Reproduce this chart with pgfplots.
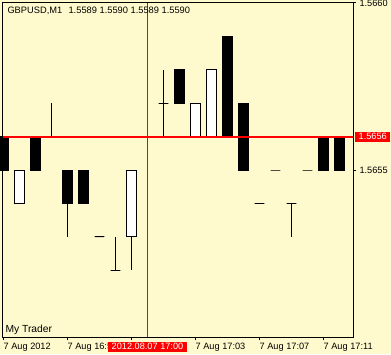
\documentclass[border=0pt]{standalone}
\usepackage{pgfplots}
\pgfplotsset{compat=1.18}
\usepgfplotslibrary{statistics}
\usepackage{fontspec}
\setmainfont{Liberation Sans}
\definecolor{chartbg}{HTML}{FFFACD}
\definecolor{mtred}{HTML}{FF0000}
% Prices are given in units of 0.0001 above 1.5600 (e.g. 56 = 1.5656)
\begin{document}
\begin{tikzpicture}
\useasboundingbox (0,0) rectangle (391pt,354pt);
\clip (0,0) rectangle (391pt,354pt);
\fill[chartbg] (0,0) rectangle (391pt,354pt);
\begin{axis}[
  at={(3pt,17pt)}, anchor=south west,
  scale only axis, width=350pt, height=334pt,
  xmin=-0.03, xmax=21.845, ymin=50, ymax=60,
  clip=false,
  axis line style={line width=1pt, black},
  tick align=outside, major tick length=3pt,
  every tick/.style={line width=1pt, black},
  xtick pos=left, ytick pos=right, yticklabel pos=right,
  xtick={0,4,8,12,16,20},
  xticklabels={7 Aug 2012, 7 Aug 16:55, 7 Aug 16:59, 7 Aug 17:03, 7 Aug 17:07, 7 Aug 17:11},
  ytick={55,60}, yticklabels={1.5655,1.5660},
  xticklabel style={anchor=base west, inner sep=0pt, yshift=-9.3pt, font=\fontsize{9.2}{11}\selectfont},
  yticklabel style={anchor=west, inner sep=0pt, xshift=3.3pt, font=\fontsize{9.2}{11}\selectfont},
  boxplot/draw direction=y,
  boxplot/box extend=0.62,
  boxplot/draw/median/.code={},
  boxplot/draw/lower whisker/.code={\draw[/pgfplots/boxplot/every whisker/.try] (boxplot box cs:\pgfplotsboxplotvalue{lower quartile},0.5) -- (boxplot box cs:\pgfplotsboxplotvalue{lower whisker},0.5);},
  boxplot/draw/upper whisker/.code={\draw[/pgfplots/boxplot/every whisker/.try] (boxplot box cs:\pgfplotsboxplotvalue{upper quartile},0.5) -- (boxplot box cs:\pgfplotsboxplotvalue{upper whisker},0.5);},
  bk/.style={black, line width=1pt, boxplot/every box/.style={draw=black, fill=black}},
  wt/.style={black, line width=1pt, boxplot/every box/.style={draw=black, fill=white}},
]
% k: draw position (minutes from 16:51); lw=low, lq/uq=body, uw=high
\addplot[bk, boxplot prepared={draw position=0, lower whisker=55, lower quartile=55, median=55, upper quartile=56, upper whisker=56}] coordinates {};
\addplot[wt, boxplot prepared={draw position=1, lower whisker=54, lower quartile=54, median=54, upper quartile=55, upper whisker=55}] coordinates {};
\addplot[bk, boxplot prepared={draw position=2, lower whisker=55, lower quartile=55, median=55, upper quartile=56, upper whisker=56}] coordinates {};
\addplot[bk, boxplot prepared={draw position=3, lower whisker=56, lower quartile=56, median=56, upper quartile=56, upper whisker=57}] coordinates {};
\addplot[bk, boxplot prepared={draw position=4, lower whisker=53, lower quartile=54, median=54, upper quartile=55, upper whisker=55}] coordinates {};
\addplot[bk, boxplot prepared={draw position=5, lower whisker=54, lower quartile=54, median=54, upper quartile=55, upper whisker=55}] coordinates {};
\addplot[bk, boxplot prepared={draw position=6, lower whisker=53, lower quartile=53, median=53, upper quartile=53, upper whisker=53}] coordinates {};
\addplot[bk, boxplot prepared={draw position=7, lower whisker=52, lower quartile=52, median=52, upper quartile=52, upper whisker=53}] coordinates {};
\addplot[wt, boxplot prepared={draw position=8, lower whisker=52, lower quartile=53, median=53, upper quartile=55, upper whisker=55}] coordinates {};
\addplot[bk, boxplot prepared={draw position=9, lower whisker=56, lower quartile=56, median=56, upper quartile=56, upper whisker=56}] coordinates {};
\addplot[bk, boxplot prepared={draw position=10, lower whisker=56, lower quartile=57, median=57, upper quartile=57, upper whisker=58}] coordinates {};
\addplot[bk, boxplot prepared={draw position=11, lower whisker=57, lower quartile=57, median=57, upper quartile=58, upper whisker=58}] coordinates {};
\addplot[wt, boxplot prepared={draw position=12, lower whisker=56, lower quartile=56, median=56, upper quartile=57, upper whisker=57}] coordinates {};
\addplot[wt, boxplot prepared={draw position=13, lower whisker=56, lower quartile=56, median=56, upper quartile=58, upper whisker=58}] coordinates {};
\addplot[bk, boxplot prepared={draw position=14, lower whisker=56, lower quartile=56, median=56, upper quartile=59, upper whisker=59}] coordinates {};
\addplot[bk, boxplot prepared={draw position=15, lower whisker=55, lower quartile=55, median=55, upper quartile=57, upper whisker=57}] coordinates {};
\addplot[bk, boxplot prepared={draw position=16, lower whisker=54, lower quartile=54, median=54, upper quartile=54, upper whisker=54}] coordinates {};
\addplot[bk, boxplot prepared={draw position=17, lower whisker=55, lower quartile=55, median=55, upper quartile=55, upper whisker=55}] coordinates {};
\addplot[bk, boxplot prepared={draw position=18, lower whisker=53, lower quartile=54, median=54, upper quartile=54, upper whisker=54}] coordinates {};
\addplot[bk, boxplot prepared={draw position=19, lower whisker=55, lower quartile=55, median=55, upper quartile=55, upper whisker=55}] coordinates {};
\addplot[bk, boxplot prepared={draw position=20, lower whisker=55, lower quartile=55, median=55, upper quartile=56, upper whisker=56}] coordinates {};
\addplot[bk, boxplot prepared={draw position=21, lower whisker=55, lower quartile=55, median=55, upper quartile=56, upper whisker=56}] coordinates {};
% current price line (1.5656) and time cursor (17:00)
\addplot[mtred, line width=2pt] coordinates {(-0.03,56) (21.845,56)};
\addplot[mtred, line width=1pt] coordinates {(9,50) (9,60)};
\coordinate (plabel) at (axis cs:21.845,56);
\coordinate (tlabel) at (axis cs:9,50);
\end{axis}
\node[fill=mtred, text=white, inner xsep=3.5pt, inner ysep=0pt, minimum height=10pt, anchor=west, xshift=2pt, font=\fontsize{9.2}{11}\selectfont] at (plabel) {1.5656};
\node[fill=mtred, text=white, inner xsep=3.5pt, inner ysep=0pt, minimum height=10pt, yshift=-9.7pt, font=\fontsize{9.2}{11}\selectfont] at (tlabel) {2012.08.07 17:00};
\node[anchor=base west, inner sep=0pt, font=\fontsize{9.3}{11}\selectfont] at (7.3pt,340pt) {GBPUSD,M1\hspace*{6.3pt}1.5589 1.5590 1.5589 1.5590};
\node[anchor=base west, inner sep=0pt, font=\fontsize{10.3}{12}\selectfont] at (5.3pt,22pt) {My Trader};
\end{tikzpicture}
\end{document}
